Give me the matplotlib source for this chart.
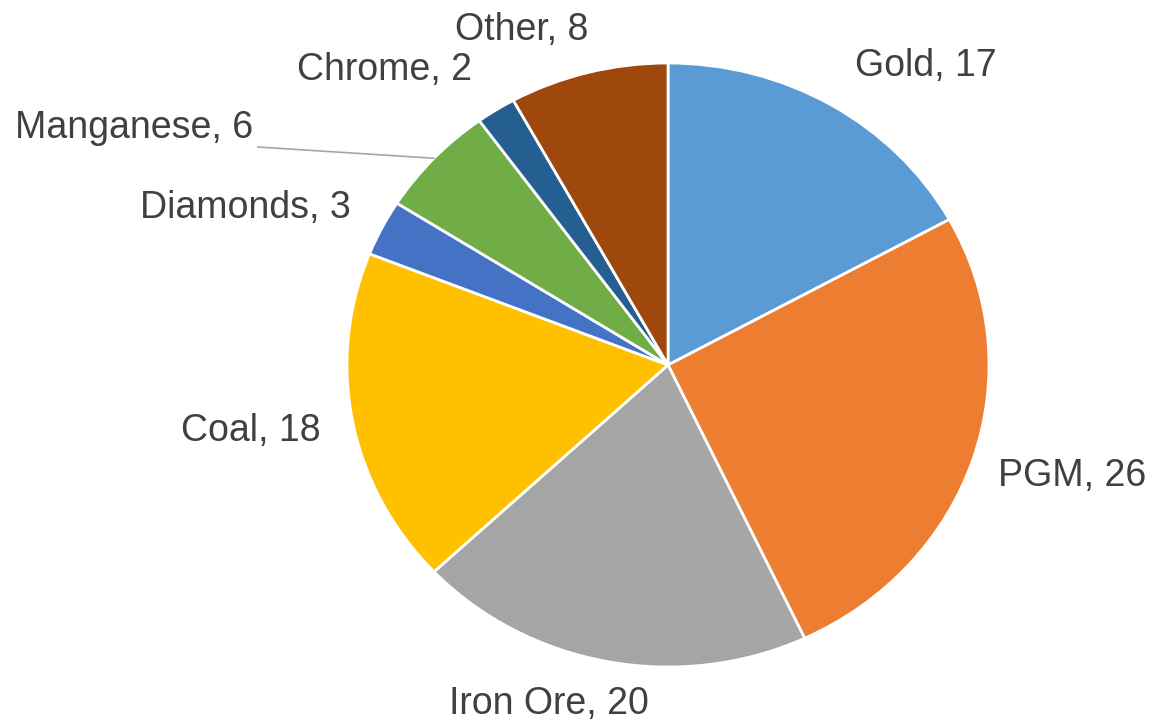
import numpy as np
import matplotlib
matplotlib.use("Agg")
import matplotlib.pyplot as plt
from matplotlib import font_manager

categories = ["Gold", "PGM", "Iron Ore", "Coal", "Diamonds", "Manganese", "Chrome", "Other"]
values = [17, 26, 20, 18, 3, 6, 2, 8]
colors = ["#5B9BD5", "#ED7D31", "#A5A5A5", "#FFC000", "#4472C4", "#70AD47", "#255E91", "#9E480E"]

names = {f.name for f in font_manager.fontManager.ttflist}
if "Liberation Sans Narrow" in names:
    fam, fsize = ["Liberation Sans Narrow", "DejaVu Sans"], 31
else:
    fam, fsize = ["Liberation Sans", "DejaVu Sans"], 27

W, H = 1155, 725
fig = plt.figure(figsize=(W / 100, H / 100), dpi=100)
ax = fig.add_axes([0, 0, 1, 1])

cx, cy, rx, ry = 668, 365, 321, 302
wedges, _ = ax.pie(values, colors=colors, startangle=90, counterclock=False,
                   wedgeprops=dict(edgecolor="white", linewidth=2.0))
ax.set_aspect("auto")
ax.set_xlim((0 - cx) / rx, (W - cx) / rx)
ax.set_ylim((cy - H) / ry, (cy - 0) / ry)
ax.axis("off")

# label centre positions (pixel coords in the reference)
label_px = [(926, 66), (1072, 476), (549, 704), (251, 431),
            (245, 208), (134, 128), (385, 70), (522, 30)]
for name, val, (px, py) in zip(categories, values, label_px):
    ax.text((px - cx) / rx, (cy - py) / ry, f"{name}, {val}",
            ha="center", va="center", fontsize=fsize, color="#404040",
            family=fam)

# leader line for Manganese
idx = categories.index("Manganese")
w = wedges[idx]
mid = np.deg2rad((w.theta1 + w.theta2) / 2)
ax.plot([(258 - cx) / rx, np.cos(mid)], [(cy - 147) / ry, np.sin(mid)],
        color="#A6A6A6", lw=1.2)

fig.savefig("out.png", dpi=100, facecolor="white")
